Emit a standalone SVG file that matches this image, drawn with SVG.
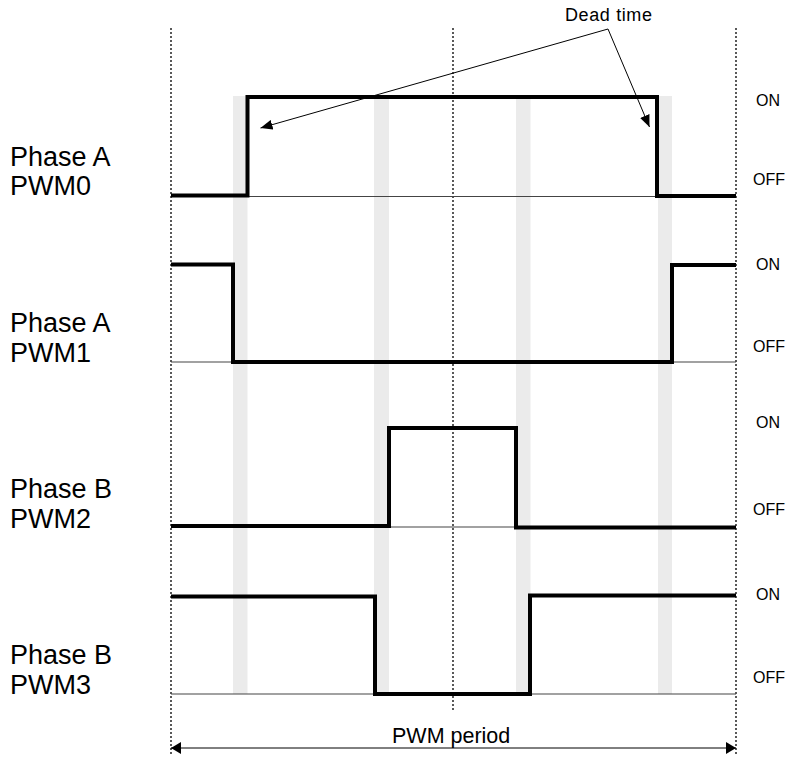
<svg xmlns="http://www.w3.org/2000/svg" width="791" height="758" viewBox="0 0 791 758">
<style>
text{font-family:"Liberation Sans",Arial,sans-serif;fill:#000}
.lbl{font-size:27px}
.st{font-size:16px}
.bar{fill:#ebebeb}
.dot{stroke:#000;stroke-width:1.3;stroke-dasharray:2,2;fill:none}
.base{stroke:#444;stroke-width:1.2;fill:none}
.wave{stroke:#000;stroke-width:4;fill:none;stroke-linejoin:miter;stroke-linecap:butt}
.thin{stroke:#000;stroke-width:1;fill:none}
</style>
<defs>
<marker id="ah" viewBox="0 0 12 10" refX="12" refY="5" markerWidth="12" markerHeight="10" markerUnits="userSpaceOnUse" orient="auto-start-reverse">
<path d="M0,0 L12,5 L0,10 Z" fill="#000"/>
</marker>
<marker id="ah2" viewBox="0 0 10 12" refX="10" refY="6" markerWidth="10" markerHeight="12" markerUnits="userSpaceOnUse" orient="auto-start-reverse">
<path d="M0,0 L10,6 L0,12 Z" fill="#000"/>
</marker>
</defs>
<g id="deadtime-bars">
<rect class="bar" x="233" y="96" width="14.5" height="598"/>
<rect class="bar" x="374" y="96" width="15" height="598"/>
<rect class="bar" x="516" y="96" width="14.5" height="598"/>
<rect class="bar" x="658" y="96" width="14" height="598"/>
</g>
<g id="gridlines">
<line class="dot" x1="171" y1="28" x2="171" y2="756"/>
<line class="dot" x1="453" y1="28" x2="453" y2="712"/>
<line class="dot" x1="736" y1="28" x2="736" y2="756"/>
</g>
<g id="baselines">
<line class="base" x1="171" y1="196.5" x2="736" y2="196.5"/>
<line class="base" x1="171" y1="362" x2="736" y2="362"/>
<line class="base" x1="171" y1="527" x2="736" y2="527"/>
<line class="base" x1="171" y1="694" x2="736" y2="694"/>
</g>
<g id="pwm0">
<path class="wave" d="M171,195.5 H247.5 V97 H657 V196 H736"/>
<text class="lbl" x="10" y="166">Phase A</text>
<text class="lbl" x="10" y="195">PWM0</text>
<text class="st" x="756" y="106">ON</text>
<text class="st" x="753" y="184.5">OFF</text>
</g>
<g id="pwm1">
<path class="wave" d="M171,264.5 H233 V362 H672 V265 H736"/>
<text class="lbl" x="10" y="332">Phase A</text>
<text class="lbl" x="10" y="361.5">PWM1</text>
<text class="st" x="756" y="270">ON</text>
<text class="st" x="753" y="352">OFF</text>
</g>
<g id="pwm2">
<path class="wave" d="M171,526 H389 V428 H516 V527.5 H736"/>
<text class="lbl" x="10" y="498">Phase B</text>
<text class="lbl" x="10" y="528">PWM2</text>
<text class="st" x="756" y="428">ON</text>
<text class="st" x="753" y="515">OFF</text>
</g>
<g id="pwm3">
<path class="wave" d="M171,596.5 H375 V694 H530 V595.5 H736"/>
<text class="lbl" x="10" y="664">Phase B</text>
<text class="lbl" x="10" y="693.5">PWM3</text>
<text class="st" x="756" y="600">ON</text>
<text class="st" x="753" y="683">OFF</text>
</g>
<g id="connectors">
<line class="thin" x1="608" y1="29" x2="260.5" y2="128" marker-end="url(#ah)"/>
<line class="thin" x1="608" y1="29" x2="649.5" y2="127" marker-end="url(#ah)"/>
<line class="thin" x1="171" y1="748" x2="736" y2="748" marker-start="url(#ah2)" marker-end="url(#ah2)"/>
</g>
<g id="labels">
<text x="565" y="21" style="font-size:18px" textLength="87">Dead time</text>
<text x="392" y="743" style="font-size:21.5px">PWM period</text>
</g>
</svg>
